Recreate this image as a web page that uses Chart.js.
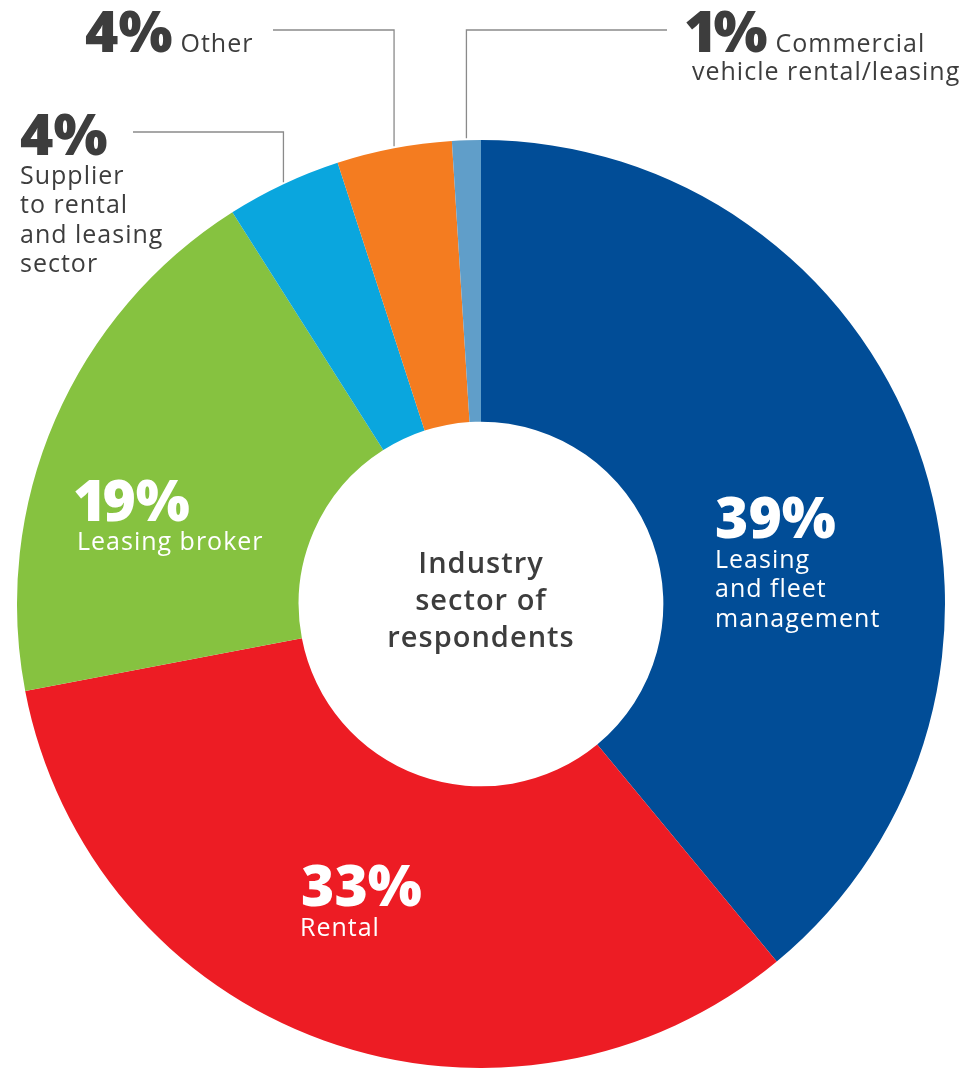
<!DOCTYPE html>
<html>
<head>
<meta charset="utf-8">
<script src="https://cdn.jsdelivr.net/npm/chart.js@4.4.1/dist/chart.umd.min.js"></script>
<style>
  html, body { margin: 0; padding: 0; background: #ffffff; }
  #wrap { position: relative; width: 977px; height: 1068px; }
</style>
</head>
<body>
<div id="wrap"><canvas id="chart" width="977" height="1068"></canvas></div>
<script>
// Industry sector of respondents (share of respondents, %)
const sectors = [
  'Leasing and fleet management',
  'Rental',
  'Leasing broker',
  'Supplier to rental and leasing sector',
  'Other',
  'Commercial vehicle rental/leasing'
];
const shares = [39, 33, 19, 4, 4, 1];
const sectorColors = ['#014d97', '#ed1c24', '#86c240', '#0aa6de', '#f47c20', '#609ec9'];

// Label placement for each slice: percentage anchor, description lines, optional leader line
const labelLayout = [
  { x: 715, y: 538, color: '#ffffff', lines: ['Leasing', 'and fleet', 'management'], lineX: 715, firstLine: 568 },
  { x: 301, y: 906, color: '#ffffff', lines: ['Rental'], lineX: 300, firstLine: 936 },
  { x: 77, y: 521, color: '#ffffff', lines: ['Leasing broker'], lineX: 77, firstLine: 550 },
  { x: 20, y: 155, color: '#3d3d3d', lines: ['Supplier', 'to rental', 'and leasing', 'sector'], lineX: 20, firstLine: 184,
    leader: { elbowY: 132, endX: 133 } },
  { x: 85, y: 52, color: '#3d3d3d', inline: 'Other', lines: [],
    leader: { elbowY: 30, endX: 273 } },
  { x: 688, y: 52, color: '#3d3d3d', inline: 'Commercial', lines: ['vehicle rental/leasing'], lineX: 692, firstLine: 80,
    leader: { elbowY: 30, endX: 667 } }
];
const centerTitle = ['Industry', 'sector of', 'respondents'];

const PCT_FONT = '800 57px "Open Sans", sans-serif';
const TEXT_FONT = '400 25px "Open Sans", sans-serif';
const LINE_STEP = 29.3;

// big percentage figures, with a slightly tighter "1"
function drawFigure(ctx, str, x, y) {
  let cx = x;
  for (const ch of str) {
    const one = ch === '1';
    ctx.fillText(ch, one ? cx - 4 : cx, y);
    cx += ctx.measureText(ch).width - (one ? 8 : 0);
  }
  return cx - x;
}

const sliceLabels = {
  id: 'sliceLabels',
  afterDatasetsDraw(chart) {
    const ctx = chart.ctx;
    const arcs = chart.getDatasetMeta(0).data;
    ctx.save();
    ctx.textBaseline = 'alphabetic';
    ctx.textAlign = 'left';

    arcs.forEach((arc, i) => {
      const cfg = labelLayout[i];
      const pct = shares[i] + '%';

      if (cfg.leader) {
        const mid = (arc.startAngle + arc.endAngle) / 2;
        const px = arc.x + Math.cos(mid) * arc.outerRadius;
        const py = arc.y + Math.sin(mid) * arc.outerRadius;
        ctx.strokeStyle = '#8a8a8a';
        ctx.lineWidth = 1.3;
        ctx.beginPath();
        ctx.moveTo(px, py - 2);
        ctx.lineTo(px, cfg.leader.elbowY);
        ctx.lineTo(cfg.leader.endX, cfg.leader.elbowY);
        ctx.stroke();
      }

      ctx.fillStyle = cfg.color;
      ctx.font = PCT_FONT;
      ctx.letterSpacing = '0px';
      const pctW = drawFigure(ctx, pct, cfg.x, cfg.y);

      ctx.font = TEXT_FONT;
      ctx.letterSpacing = '1px';
      if (cfg.inline) ctx.fillText(cfg.inline, cfg.x + pctW + 8, cfg.y);
      cfg.lines.forEach((t, k) => ctx.fillText(t, cfg.lineX, cfg.firstLine + k * LINE_STEP));
    });

    // title in the hole
    const a0 = arcs[0];
    ctx.fillStyle = '#3d3d3d';
    ctx.textAlign = 'center';
    ctx.font = '600 29px "Open Sans", sans-serif';
    ctx.letterSpacing = '1px';
    centerTitle.forEach((t, k) => ctx.fillText(t, a0.x, a0.y - 31 + k * 37));
    ctx.restore();
  }
};

new Chart(document.getElementById('chart'), {
  type: 'doughnut',
  data: {
    labels: sectors,
    datasets: [{
      data: shares,
      backgroundColor: sectorColors,
      borderWidth: 0
    }]
  },
  options: {
    responsive: false,
    animation: false,
    cutout: '39.3%',
    layout: { padding: { left: 17, right: 32, top: 140, bottom: 0 } },
    plugins: {
      legend: { display: false },
      tooltip: { enabled: false }
    }
  },
  plugins: [sliceLabels]
});
</script>
</body>
</html>
